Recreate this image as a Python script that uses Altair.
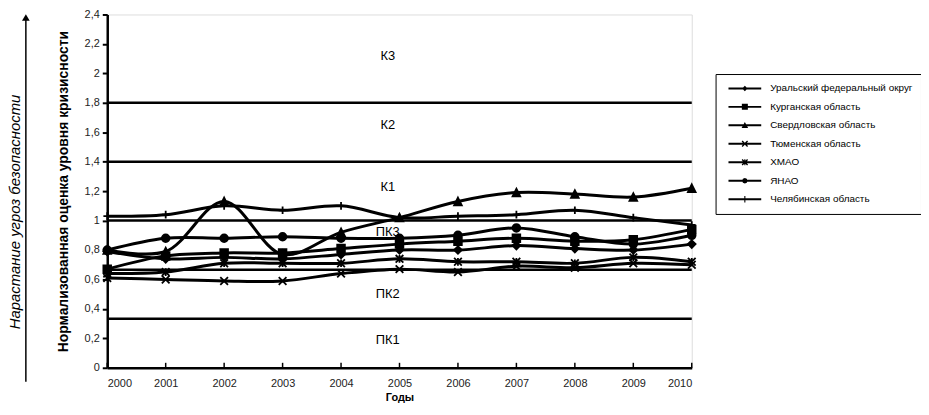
import altair as alt
import pandas as pd

years = [2000, 2001, 2002, 2003, 2004, 2005, 2006, 2007, 2008, 2009, 2010]
series_names = [
    "Уральский федеральный округ",
    "Курганская область",
    "Свердловская область",
    "Тюменская область",
    "ХМАО",
    "ЯНАО",
    "Челябинская область",
]
ural = [0.79, 0.74, 0.75, 0.74, 0.77, 0.80, 0.80, 0.83, 0.81, 0.80, 0.84]
kurgan = [0.67, 0.76, 0.78, 0.78, 0.81, 0.84, 0.86, 0.88, 0.86, 0.87, 0.94]
sverdl = [0.80, 0.79, 1.13, 0.77, 0.92, 1.02, 1.13, 1.19, 1.18, 1.16, 1.22]
tyumen = [0.61, 0.60, 0.59, 0.59, 0.64, 0.67, 0.65, 0.69, 0.68, 0.71, 0.70]
hmao = [0.64, 0.65, 0.71, 0.71, 0.71, 0.74, 0.72, 0.72, 0.71, 0.75, 0.72]
yanao = [0.80, 0.88, 0.88, 0.89, 0.88, 0.88, 0.90, 0.95, 0.89, 0.84, 0.90]
chel = [1.03, 1.04, 1.10, 1.07, 1.10, 1.02, 1.03, 1.04, 1.07, 1.02, 0.97]

boundaries = [1 / 3, 2 / 3, 1.0, 1.4, 1.8]
zone_names = ["К3", "К2", "К1", "ПК3", "ПК2", "ПК1"]
zone_y = [2.12, 1.65, 1.23, 0.92, 0.50, 0.19]
zone_x = 2004.8
y_ticks = [0, 0.2, 0.4, 0.6, 0.8, 1.0, 1.2, 1.4, 1.6, 1.8, 2.0, 2.2, 2.4]

all_values = [ural, kurgan, sverdl, tyumen, hmao, yanao, chel]
rows = []
for name, vals in zip(series_names, all_values):
    for yr, v in zip(years, vals):
        rows.append({"year": yr, "value": v, "series": name})
df = pd.DataFrame(rows)

marker_paths = [
    "M0,-1L1,0L0,1L-1,0Z",
    "M-1,-1H1V1H-1Z",
    "M0,-1L1,1H-1Z",
    "M-1,-1L1,1M-1,1L1,-1",
    "M-1,-1L1,1M-1,1L1,-1M0,-1V1",
    "M1,0A1,1,0,1,1,-1,0A1,1,0,1,1,1,0Z",
    "M-1,0H1M0,-1V1",
]
# legend glyphs: a filled line segment plus a filled marker (same winding)
LINE = "M-3,-0.18V0.18H3V-0.18Z"
XBARS = ("M-0.585,-0.415L0.415,0.585L0.585,0.415L-0.415,-0.585Z"
         "M-0.415,0.585L0.585,-0.415L0.415,-0.585L-0.585,0.415Z")
legend_paths = [
    LINE + "M0,-0.5L-0.5,0L0,0.5L0.5,0Z",
    LINE + "M-0.55,-0.55V0.55H0.55V-0.55Z",
    LINE + "M0,-0.6L-0.6,0.5H0.6Z",
    LINE + XBARS,
    LINE + XBARS + "M-0.1,-0.55V0.55H0.1V-0.55Z",
    LINE + "M0,-0.5L-0.354,-0.354L-0.5,0L-0.354,0.354L0,0.5L0.354,0.354L0.5,0L0.354,-0.354Z",
    LINE + "M-0.1,-0.6V0.6H0.1V-0.6Z",
]

FONT = "Liberation Sans"
W, H = 589, 356

xscale = alt.Scale(domain=[2000, 2010], nice=False, zero=False)
yscale = alt.Scale(domain=[0, 2.4], nice=False)

x_axis = alt.Axis(
    values=years, format="d", title="Годы", tickSize=0, labelPadding=10,
    labelFontSize=11, labelFont=FONT, labelColor="#222",
    titleFont=FONT, titleFontSize=11, titleFontWeight="bold", titlePadding=3,
    domainColor="black", domainWidth=2.5, grid=False,
)
y_axis = alt.Axis(
    values=y_ticks,
    labelExpr="replace(format(datum.value, '~g'), '.', ',')",
    labelOverlap=False, labelFlush=False,
    title="Нормализованная оценка уровня кризисности",
    tickSize=5, tickWidth=2, tickColor="black", labelPadding=3,
    labelFontSize=11, labelFont=FONT, labelColor="#222",
    titleFont=FONT, titleFontSize=14, titleFontWeight="bold", titlePadding=14,
    domainColor="black", domainWidth=2.5, grid=False,
)


def X(field):
    return alt.X(field, scale=xscale, axis=x_axis)


def Y(field):
    return alt.Y(field, scale=yscale, axis=y_axis)


bdf = pd.DataFrame({"b": boundaries})
rules = alt.Chart(bdf).mark_rule(color="black", strokeWidth=2.5).encode(y=Y("b:Q"))

zdf = pd.DataFrame({"name": zone_names, "zy": zone_y, "zx": [zone_x] * len(zone_names)})
zones = alt.Chart(zdf).mark_text(font=FONT, fontSize=13, color="black").encode(
    x=X("zx:Q"), y=Y("zy:Q"), text="name:N"
)

ydf = pd.DataFrame({"year": years})
xticks = alt.Chart(ydf).mark_rule(color="black", strokeWidth=1.5).encode(
    x=X("year:Q"), y=alt.value(H), y2=alt.value(H - 5)
)

lines = alt.Chart(df).mark_line(
    color="black", strokeWidth=3, interpolate="catmull-rom"
).encode(x=X("year:Q"), y=Y("value:Q"), detail="series:N")

points = alt.Chart(df).mark_point(
    filled=True, fill="black", stroke="black", strokeWidth=1.8, opacity=1
).encode(
    x=X("year:Q"),
    y=Y("value:Q"),
    shape=alt.Shape("series:N", scale=alt.Scale(domain=series_names, range=marker_paths), legend=None),
    size=alt.value(60),
)

legend_layer = alt.Chart(df).mark_point(
    filled=True, fill="black", opacity=0
).encode(
    x=X("year:Q"),
    y=Y("value:Q"),
    shape=alt.Shape(
        "series:N",
        scale=alt.Scale(domain=series_names, range=legend_paths),
        legend=alt.Legend(
            title=None, orient="none", legendX=613, legendY=60,
            strokeColor="black", fillColor="white", padding=8,
            labelFont=FONT, labelFontSize=10, labelColor="black",
            symbolSize=121, symbolFillColor="black", symbolOpacity=1,
            symbolOffset=15, labelOffset=19, rowPadding=5.6,
        ),
    ),
)

adf = pd.DataFrame({"t": ["Нарастание угроз безопасности"]})
side_text = alt.Chart(adf).mark_text(
    font=FONT, fontSize=15, fontStyle="italic", angle=270, color="black",
    align="center", baseline="middle",
).encode(x=alt.value(-93), y=alt.value(199), text="t:N")
arrow = alt.Chart(adf).mark_rule(color="black", strokeWidth=1.5).encode(
    x=alt.value(-82), y=alt.value(370), y2=alt.value(4)
)
arrow_head = alt.Chart(adf).mark_point(
    shape="triangle-up", filled=True, color="black", size=60, opacity=1
).encode(x=alt.value(-82), y=alt.value(3))

chart = alt.layer(
    rules, zones, xticks, lines, points, legend_layer, side_text, arrow, arrow_head
).resolve_scale(shape="independent").properties(
    width=W, height=H,
    autosize=alt.AutoSizeParams(type="none"),
    padding={"left": 100, "top": 5, "right": 231, "bottom": 38},
).configure_view(stroke="black", strokeWidth=2.5).configure(background="white")

chart.save("out.html", embed_options={"renderer": "svg", "actions": False})
